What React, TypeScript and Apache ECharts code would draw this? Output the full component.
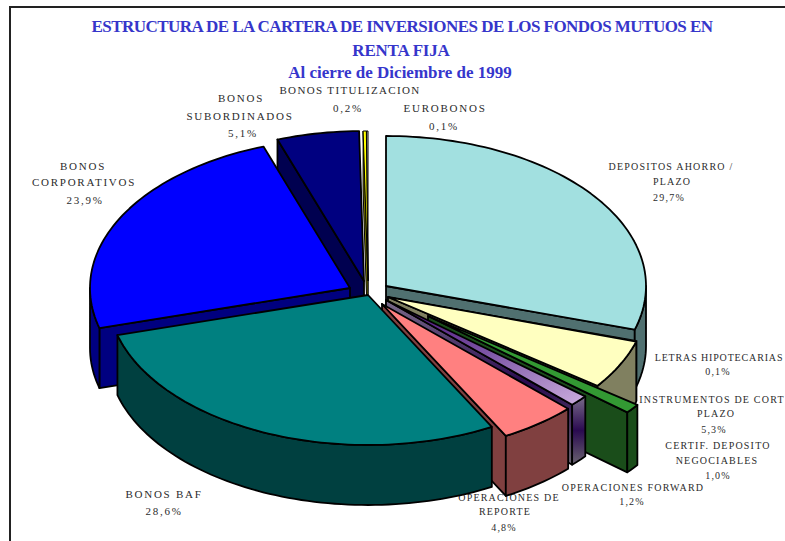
import React, { useEffect, useRef } from "react";
import * as echarts from "echarts";

const categories = [
  "DEPOSITOS AHORRO / PLAZO",
  "LETRAS HIPOTECARIAS",
  "INSTRUMENTOS DE CORTO PLAZO",
  "CERTIF. DEPOSITO NEGOCIABLES",
  "OPERACIONES FORWARD",
  "OPERACIONES DE REPORTE",
  "BONOS BAF",
  "BONOS CORPORATIVOS",
  "BONOS SUBORDINADOS",
  "BONOS TITULIZACION",
  "EUROBONOS",
];
const shares = [29.7, 0.1, 5.3, 1.0, 1.2, 4.8, 28.6, 23.9, 5.1, 0.2, 0.1];
const titleLines = [
  "ESTRUCTURA DE LA CARTERA DE INVERSIONES DE LOS FONDOS MUTUOS EN",
  "RENTA FIJA",
  "Al cierre de Diciembre de 1999",
];

// Styling and layout, kept apart from the data
const topColors: any[] = [
  "#A2E0E0", "#FFFFC0", "#FFFFC0", "#339933",
  { type: "linear", x: 1, y: 1, x2: 0, y2: 0, colorStops: [
    { offset: 0, color: "#CCAEDE" }, { offset: 0.5, color: "#7C55A5" }, { offset: 1, color: "#3F0070" } ] },
  "#FF8080", "#008080", "#0000FF", "#000080", "#FFFF00", "#C0C0C0",
];
const wallColors: any[] = [
  "#507070", "#808060", "#808060", "#1A4D1A",
  { type: "linear", x: 0, y: 0, x2: 0, y2: 1, colorStops: [
    { offset: 0, color: "#7A6C8A" }, { offset: 0.5, color: "#2A0A50" }, { offset: 1, color: "#6A6470" } ] },
  "#804040", "#004040", "#000080", "#000050", "#808000", "#606060",
];
const apexes = [
  [386, 286], [388, 297], [388, 297], [428, 316], [386, 300], [382, 304],
  [368, 295], [350, 288], [364, 281], [368, 281], [368, 281],
];
const paintOrder = [10, 9, 8, 0, 1, 2, 7, 3, 4, 5, 6];
const RX = 260, RY = 150, DEPTH = 60;

// fill values select the letter-spacing groups in the style sheet below
const LOOSE = "#2b2b2c", MID = "#2b2b2d", TIGHT = "#2b2b2e", BASE = "#2b2b2b";
type Lbl = [string, number, number, string];
const labelTexts: Lbl[] = [
  ["BONOS TITULIZACION", 350, 90, MID], ["0,2%", 348, 108, LOOSE],
  ["EUROBONOS", 445, 108, LOOSE], ["0,1%", 444, 126, LOOSE],
  ["BONOS", 241, 98, LOOSE], ["SUBORDINADOS", 240, 116, LOOSE], ["5,1%", 243, 133, LOOSE],
  ["BONOS", 83, 166, LOOSE], ["CORPORATIVOS", 84, 182, LOOSE], ["23,9%", 85, 200, LOOSE],
  ["DEPOSITOS AHORRO /", 671, 166, BASE], ["PLAZO", 672, 181, BASE], ["29,7%", 669, 197, BASE],
  ["LETRAS HIPOTECARIAS", 719, 357, TIGHT], ["0,1%", 718, 371, BASE],
  ["INSTRUMENTOS DE CORT", 712, 399, BASE], ["PLAZO", 716, 413, BASE], ["5,3%", 714, 429, BASE],
  ["CERTIF. DEPOSITO", 718, 445, BASE], ["NEGOCIABLES", 717, 460, BASE], ["1,0%", 718, 475, BASE],
  ["OPERACIONES FORWARD", 633, 487, BASE], ["1,2%", 632, 501, BASE],
  ["OPERACIONES DE", 509, 497, BASE], ["REPORTE", 505, 511, BASE], ["4,8%", 504, 527, BASE],
  ["BONOS BAF", 164, 494, LOOSE], ["28,6%", 164, 511, LOOSE],
];
const titlePos = [[402, 26], [401, 50], [400, 72]];
const titleFills = ["#3636CA", "#3636CB", "#3636CC"];

function renderSlice(_params: any, api: any) {
  const idx = api.value(0);
  const total = shares.reduce((a, b) => a + b, 0);
  let cum = 0;
  for (let i = 0; i < idx; i++) cum += shares[i];
  const a0 = (cum / total) * 360;
  const a1 = ((cum + api.value(1)) / total) * 360;
  const [cx, cy] = apexes[idx];
  const pt = (deg: number, dy = 0) => {
    const t = (deg * Math.PI) / 180;
    return [cx + RX * Math.sin(t), cy - RY * Math.cos(t) + dy];
  };
  const arc = (from: number, to: number, dy = 0) => {
    const out: number[][] = [];
    const n = Math.max(1, Math.ceil((to - from) / 1.5));
    for (let i = 0; i <= n; i++) out.push(pt(from + ((to - from) * i) / n, dy));
    return out;
  };
  const children: any[] = [];
  const lineWidth = api.value(1) < 0.5 ? 1 : 1.8;
  const poly = (points: number[][], fill: any) =>
    children.push({
      type: "polygon",
      shape: { points },
      style: { fill, stroke: "#000", lineWidth, lineJoin: "round" },
    });
  const wall = wallColors[idx];
  // radial faces that look towards the viewer
  if (Math.sin((a0 * Math.PI) / 180) < 0) {
    poly([[cx, cy], pt(a0), pt(a0, DEPTH), [cx, cy + DEPTH]], wall);
  }
  if (Math.sin((a1 * Math.PI) / 180) > 0) {
    poly([[cx, cy], pt(a1), pt(a1, DEPTH), [cx, cy + DEPTH]], wall);
  }
  // outer rim: only the front half of the ellipse shows
  const f0 = Math.max(a0, 90), f1 = Math.min(a1, 270);
  if (f1 > f0) poly([...arc(f0, f1), ...arc(f0, f1, DEPTH).reverse()], wall);
  // top face
  poly([[cx, cy], ...arc(a0, a1)], topColors[idx]);
  return { type: "group", children };
}

export default function App() {
  const ref = useRef<HTMLDivElement>(null);
  useEffect(() => {
    const chart = echarts.init(ref.current!, undefined, { renderer: "svg" });
    chart.setOption({
      animation: false,
      backgroundColor: "#fff",
      graphic: {
        elements: [
          {
            type: "rect", z: 0,
            shape: { x: 10, y: 7, width: 900, height: 700 },
            style: { fill: "none", stroke: "#222", lineWidth: 2 },
          },
          ...titleLines.map((t, i) => ({
            type: "text", z: 1, x: titlePos[i][0], y: titlePos[i][1],
            style: {
              text: t, fill: titleFills[i], align: "center", verticalAlign: "middle",
              font: "bold 17px 'Liberation Serif'",
            },
          })),
          ...labelTexts.map(([t, x, y, fill]) => ({
            type: "text", z: 1, x, y,
            style: {
              text: t, fill, align: "center", verticalAlign: "middle",
              font: fill === LOOSE || fill === MID ? "11px 'Liberation Serif'" : "10px 'Liberation Serif'",
            },
          })),
        ],
      },
      series: [
        {
          type: "custom",
          coordinateSystem: "none",
          name: "Cartera",
          renderItem: renderSlice,
          z: 5,
          silent: true,
          data: paintOrder.map((i) => ({ name: categories[i], value: [i, shares[i]] })),
        },
      ],
    });
    return () => chart.dispose();
  }, []);
  return (
    <>
      <style>{`
        html,body{margin:0;padding:0;background:#fff}
        #chartbox svg text[fill="${BASE}"]{letter-spacing:1.2px}
        #chartbox svg text[fill="${LOOSE}"]{letter-spacing:1.75px}
        #chartbox svg text[fill="${MID}"]{letter-spacing:1.35px}
        #chartbox svg text[fill="${TIGHT}"]{letter-spacing:0.85px}
        #chartbox svg text[fill="${titleFills[0]}"]{letter-spacing:-0.54px}
        #chartbox svg text[fill="${titleFills[1]}"]{letter-spacing:-0.2px}
        #chartbox svg text[fill="${titleFills[2]}"]{letter-spacing:0}
      `}</style>
      <div id="chartbox" ref={ref} style={{ width: 785, height: 541, overflow: "hidden" }} />
    </>
  );
}
